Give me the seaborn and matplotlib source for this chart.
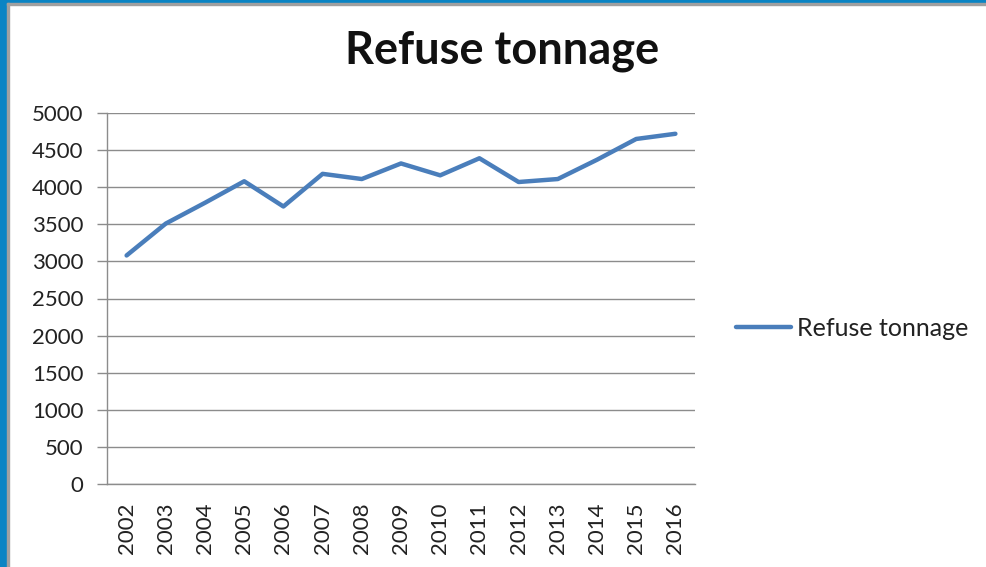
import matplotlib
matplotlib.use("Agg")
import matplotlib.pyplot as plt
import matplotlib.patches as patches
import pandas as pd
import seaborn as sns

# DATA
years = ["2002", "2003", "2004", "2005", "2006", "2007", "2008", "2009",
         "2010", "2011", "2012", "2013", "2014", "2015", "2016"]
tonnage = [3080, 3510, 3790, 4080, 3740, 4180, 4110, 4320,
           4160, 4390, 4070, 4110, 4370, 4650, 4720]

df = pd.DataFrame({"Year": years, "Refuse tonnage": tonnage})
df["pos"] = range(len(df))

sns.set_style("white")
plt.rcParams["font.family"] = ["Lato", "DejaVu Sans"]

fig = plt.figure(figsize=(9.86, 5.67), dpi=100)
ax = fig.add_axes([107 / 986, 1 - 484 / 567, 588 / 986, 371 / 567])

sns.lineplot(data=df, x="pos", y="Refuse tonnage", ax=ax, color="#4A7EBB",
             linewidth=3.2, label="Refuse tonnage", solid_capstyle="round")

# axes
ax.set_xlim(-0.5, len(years) - 0.5)
ax.set_ylim(0, 5000)
ax.set_yticks(range(0, 5001, 500))
ax.set_xticks(range(len(years)))
ax.set_xticklabels(years, rotation=90)
ax.set_xticks([i - 0.5 for i in range(len(years) + 1)], minor=True)
ax.tick_params(axis="x", which="major", length=0, pad=13, labelsize=16, colors="#222222")
ax.tick_params(axis="x", which="minor", length=7, width=1, color="#8c8c8c")
ax.tick_params(axis="y", length=7, width=1, color="#8c8c8c", labelsize=16,
               labelcolor="#222222", pad=10, left=True)
ax.set_xlabel("")
ax.set_ylabel("")
ax.grid(axis="y", color="#8c8c8c", linewidth=1)
for s in ["top", "right"]:
    ax.spines[s].set_visible(False)
ax.spines["left"].set_color("#8c8c8c")
ax.spines["bottom"].set_color("#8c8c8c")
ax.spines["left"].set_linewidth(1)
ax.spines["bottom"].set_linewidth(1)

# legend to the right
leg = ax.legend(loc="center left", bbox_to_anchor=(1.07, 0.42), frameon=False,
                fontsize=18, handlelength=2.2, handletextpad=0.25,
                borderpad=0, borderaxespad=0)
for t in leg.get_texts():
    t.set_color("#222222")

fig.text(502 / 986, 1 - 64 / 567, "Refuse tonnage", ha="center", va="baseline",
         fontsize=32.5, fontweight="bold", color="#111111")

# window frame: blue strip on the left and top
fig.patches.append(patches.Rectangle((0, 0), 7 / 986, 1, transform=fig.transFigure,
                                     color="#0A84C4", zorder=10))
fig.patches.append(patches.Rectangle((0, 1 - 3 / 567), 1, 3 / 567, transform=fig.transFigure,
                                     color="#0A84C4", zorder=10))
fig.patches.append(patches.Rectangle((7 / 986, 0), 2 / 986, 1 - 3 / 567, transform=fig.transFigure,
                                     color="#a0a0a0", zorder=10))
fig.patches.append(patches.Rectangle((7 / 986, 1 - 5 / 567), 1, 2 / 567, transform=fig.transFigure,
                                     color="#a0a0a0", zorder=10))

fig.savefig("out.png", dpi=100)
